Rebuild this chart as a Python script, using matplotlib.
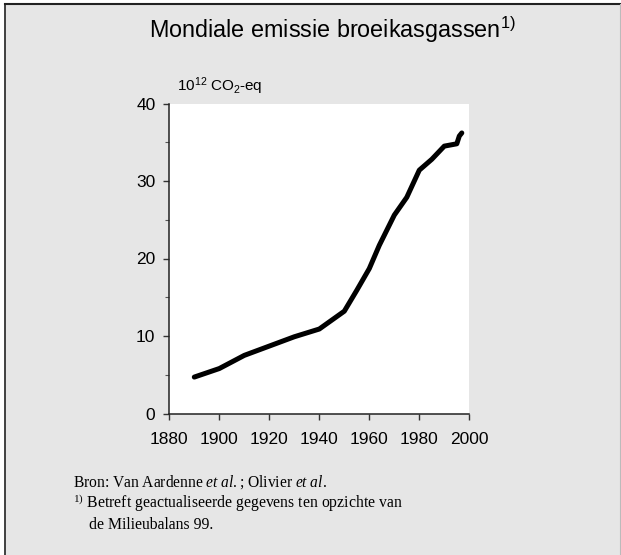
import matplotlib.pyplot as plt
from matplotlib.patches import Rectangle
from matplotlib.lines import Line2D

plt.rcParams['mathtext.fontset'] = 'custom'
plt.rcParams['mathtext.rm'] = 'Liberation Serif'
plt.rcParams['mathtext.it'] = 'Liberation Serif:italic'
plt.rcParams['mathtext.sf'] = 'Liberation Sans'

years = [1890, 1900, 1910, 1920, 1930, 1940, 1950, 1955, 1960, 1964, 1970,
         1975, 1980, 1985, 1990, 1995, 1996, 1997]
emissions = [4.7, 5.8, 7.5, 8.7, 9.9, 10.9, 13.2, 15.9, 18.7, 21.7, 25.6,
             27.9, 31.4, 32.8, 34.5, 34.8, 35.8, 36.2]
x_ticks = [1880, 1900, 1920, 1940, 1960, 1980, 2000]
y_ticks = [0, 10, 20, 30, 40]
y_minor = [5, 15, 25, 35]

W, H = 621, 555
fig = plt.figure(figsize=(W / 100, H / 100), dpi=100)
fig.patch.set_facecolor('white')

# grey panel with a dark edge on the left and top
fig.patches.append(Rectangle((5 / W, 0), 1 - 5 / W, 1 - 4 / H, transform=fig.transFigure,
                             facecolor='#e6e6e6', edgecolor='none', zorder=-5))
fig.lines.append(Line2D([5 / W, 5 / W], [0, 1 - 4 / H], transform=fig.transFigure,
                        color='#333333', linewidth=1.3, zorder=-4))
fig.lines.append(Line2D([5 / W, 1], [1 - 4 / H, 1 - 4 / H], transform=fig.transFigure,
                        color='#222222', linewidth=1.5, zorder=-4))
fig.lines.append(Line2D([619.5 / W, 619.5 / W], [0, 1 - 4 / H], transform=fig.transFigure,
                        color='#bbbbbb', linewidth=0.8, zorder=-4))

ax = fig.add_axes([169.3 / W, 1 - 413.5 / H, 300 / W, 310 / H])
ax.set_facecolor('white')
ax.plot(years, emissions, color='black', linewidth=3.6, solid_capstyle='round',
        solid_joinstyle='round', clip_on=False)

ax.set_xlim(1880, 2000)
ax.set_ylim(0, 40)
ax.set_xticks(x_ticks)
ax.set_yticks(y_ticks)
ax.set_yticks(y_minor, minor=True)
for s in ['top', 'right']:
    ax.spines[s].set_visible(False)
for s in ['left', 'bottom']:
    ax.spines[s].set_color('#222222')
    ax.spines[s].set_linewidth(1.1)
ax.tick_params(axis='both', which='major', direction='out', length=4, width=1,
               color='#333333', labelsize=12.5, labelcolor='black')
ax.tick_params(axis='x', which='major', pad=9.5)
ax.tick_params(axis='y', which='major', pad=6)
ax.tick_params(axis='y', which='minor', direction='out', length=3, width=0.8,
               color='#555555')
for lab in ax.get_xticklabels() + ax.get_yticklabels():
    lab.set_fontfamily('Liberation Sans')

fig.text(332 / W, 1 - 30 / H, r'Mondiale emissie broeikasgassen$\mathsf{^{1)}}$',
         fontfamily='Liberation Sans', fontsize=16.8, ha='center', va='center')
fig.text(177 / W, 1 - 86 / H, r'$\mathsf{10^{12}\ CO_2}$-eq',
         fontfamily='Liberation Sans', fontsize=11, ha='left', va='center')

fig.text(73 / W, 1 - 482 / H,
         r'Bron: Van Aardenne $\mathit{et\ al.}$; Olivier $\mathit{et\ al.}$',
         fontfamily='Liberation Serif', fontsize=11.2, ha='left', va='center')
fig.text(73 / W, 1 - 503 / H,
         r'$^{1)}$ Betreft geactualiseerde gegevens ten opzichte van',
         fontfamily='Liberation Serif', fontsize=11.3, ha='left', va='center')
fig.text(89 / W, 1 - 525 / H, 'de Milieubalans 99.',
         fontfamily='Liberation Serif', fontsize=11.3, ha='left', va='center')

fig.savefig('out.png', dpi=100, facecolor=fig.get_facecolor())
